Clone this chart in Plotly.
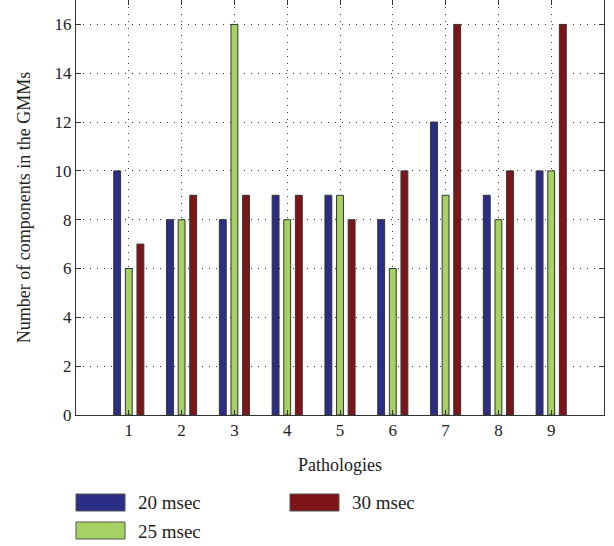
import plotly.graph_objects as go

categories = [1, 2, 3, 4, 5, 6, 7, 8, 9]
series_names = ["20 msec", "25 msec", "30 msec"]
vals_20 = [10, 8, 8, 9, 9, 8, 12, 9, 10]
vals_25 = [6, 8, 16, 8, 9, 6, 9, 8, 10]
vals_30 = [7, 9, 9, 9, 8, 10, 16, 10, 16]
y_ticks = [0, 2, 4, 6, 8, 10, 12, 14, 16]

colors = ["#2B2E85", "#A6D264", "#7D1518"]
offsets = [-0.285, -0.065, 0.155]
width = 0.13
FONT = "Liberation Serif"

fig = go.Figure()
for name, vals, col, off in zip(series_names, [vals_20, vals_25, vals_30], colors, offsets):
    fig.add_trace(go.Bar(x=categories, y=vals, name=name, width=width, offset=off,
                         marker=dict(color=col, line=dict(color="#333333", width=1)),
                         showlegend=False))

W, H = 614, 546
L, R, T, B = 76, 10, 0, 131
pw, ph = W - L - R, H - T - B

def px_x(p):
    return (p - L) / pw

def px_y(p):
    return (H - B - p) / ph

# legend drawn as boxes + labels (column-major like reference)
leg = [(76, 494, 0), (76, 522, 1), (290, 494, 2)]
for x0, y0, i in leg:
    fig.add_shape(type="rect", xref="paper", yref="paper",
                  x0=px_x(x0), x1=px_x(x0 + 49), y0=px_y(y0 + 17), y1=px_y(y0),
                  fillcolor=colors[i], line=dict(color="#555555", width=1))
    fig.add_annotation(xref="paper", yref="paper", x=px_x(x0 + 60), y=px_y(y0 + 9),
                       text=series_names[i], showarrow=False, xanchor="left", yanchor="middle",
                       font=dict(family=FONT, size=19, color="#222222"))

axis_common = dict(showline=True, linecolor="#333333", linewidth=1, mirror="ticks",
                   ticks="inside", ticklen=5, tickcolor="#333333", automargin=False,
                   showgrid=True, gridcolor="#333333", griddash="1px,6px", gridwidth=1.2,
                   zeroline=False, tickfont=dict(family=FONT, size=17, color="#222222"))

fig.update_layout(
    width=W, height=H,
    margin=dict(l=L, r=R, t=T, b=B, pad=0),
    paper_bgcolor="white", plot_bgcolor="white",
    barmode="overlay",
    font=dict(family=FONT, color="#222222"),
    xaxis=dict(range=[0, 10], tickvals=categories, ticktext=[str(c) for c in categories],
               title=dict(text="Pathologies", font=dict(family=FONT, size=18), standoff=18),
               **axis_common),
    yaxis=dict(range=[0, 17], tickvals=y_ticks, ticktext=[str(t) for t in y_ticks],
               title=dict(text="Number of components in the GMMs", font=dict(family=FONT, size=18), standoff=19),
               **axis_common),
)

post = (
    "document.body.style.margin='0';"
    "var style=document.createElement('style');"
    "style.textContent='.main-svg text{font-family:\"Liberation Serif\",\"Times New Roman\",serif !important;}';"
    "document.head.appendChild(style);"
)

fig.write_html("out.html", config={"displayModeBar": False}, post_script=post)
